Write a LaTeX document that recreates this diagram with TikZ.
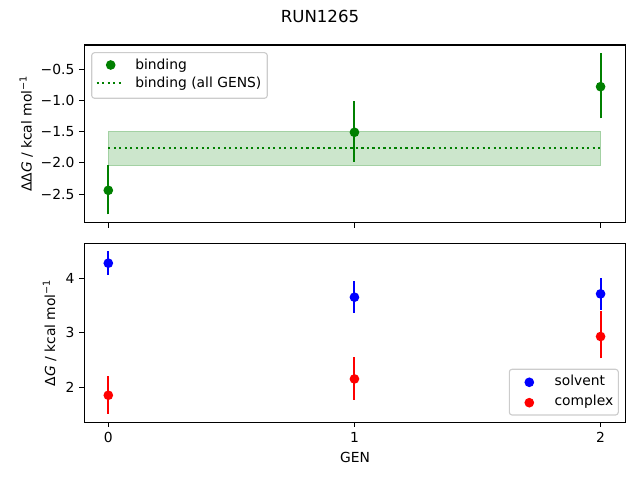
\documentclass[tikz,border=0pt]{standalone}
\usepackage{fontspec}
\setmainfont{DejaVu Sans}
\usepackage{tikz}
\usepackage{xcolor}
\definecolor{mplgreen}{HTML}{008000}
\definecolor{mplblue}{HTML}{0000FF}
\definecolor{mplred}{HTML}{FF0000}
\definecolor{legedge}{HTML}{CCCCCC}
\newcommand{\mplfont}{\fontsize{10}{12}\selectfont}

\begin{document}
\begin{tikzpicture}[x=0.01in,y=0.01in]
\tikzstyle{marker}=[circle,inner sep=0pt,minimum size=7pt]
\tikzstyle{errbar}=[line width=1.5pt]
\tikzstyle{spine}=[line width=0.8pt,black]
\tikzstyle{yticklab}=[anchor=east,inner sep=0pt,xshift=-7pt,font=\mplfont]
\tikzstyle{xticklab}=[anchor=north,inner sep=0pt,yshift=-7pt,font=\mplfont]
\tikzstyle{axlabel}=[anchor=base,inner sep=0pt,font=\mplfont]
\tikzstyle{legframe}=[draw=legedge,line width=0.8pt,rounded corners=2pt,fill=white,fill opacity=0.8]
\tikzstyle{legtext}=[anchor=base west,inner sep=0pt,font=\mplfont]
\tikzstyle{allgens}=[mplgreen,line width=1.5pt,dash pattern=on 1.5pt off 2.475pt]
\tikzstyle{band}=[fill=mplgreen,draw=mplgreen,fill opacity=0.2,draw opacity=0.2,line width=1pt]

\useasboundingbox (0,0) rectangle (640,480);

\node[anchor=base,inner sep=0pt,font=\fontsize{12}{14}\selectfont] (title) at (320,457.3) {RUN1265};

\begin{scope}[shift={(108.3,441.9)},x=2.46in,y=0.6235in]
\coordinate (tsw) at (-0.0976,-2.961);
\coordinate (tne) at (2.1016,-0.1107);
\coordinate (bandsw) at (0,-2.046);
\coordinate (bandne) at (2,-1.494);
\coordinate (avgl) at (0,-1.757);
\coordinate (avgr) at (2,-1.757);
\filldraw[band] (bandsw) rectangle (bandne);
\draw[allgens] (avgl) -- (avgr);
\foreach \g/\v/\lo/\hi in {0/-2.44/-2.826/-2.035,1/-1.51/-1.982/-1.008,2/-0.779/-1.286/-0.243}{
  \coordinate (bind\g lo) at (\g,\lo);
  \coordinate (bind\g hi) at (\g,\hi);
  \draw[errbar,mplgreen] (bind\g lo) -- (bind\g hi);
  \node[marker,fill=mplgreen] (bind\g) at (\g,\v) {};
}
\draw[spine] (tsw) rectangle (tne);
\foreach \v/\t [count=\i] in {-2.5/−2.5,-2.0/−2.0,-1.5/−1.5,-1.0/−1.0,-0.5/−0.5}{
  \draw[spine] (-0.0976,\v) -- ++(-3.5pt,0);
  \node[yticklab] (ttop\i) at (-0.0976,\v) {\t};
}
\foreach \g in {0,1,2}
  \draw[spine] (\g,-2.961) -- ++(0,-3.5pt);
\end{scope}

\node[axlabel,rotate=90] (ylabtop) at (31.7,346.2) {ΔΔ\textit{G} / kcal mol\textsuperscript{−1}};

\draw[legframe] (91.7,427.3) rectangle (267.3,381.7);
\node[marker,fill=mplgreen] (legbind) at (110.7,415) {};
\node[legtext] (legbindtxt) at (135,410.5) {binding};
\coordinate (legavgl) at (96.7,396.7);
\coordinate (legavgr) at (123.3,396.7);
\draw[allgens] (legavgl) -- (legavgr);
\node[legtext] (legavgtxt) at (135,392) {binding (all GENS)};

\begin{scope}[shift={(108.3,-16.3)},x=2.46in,y=0.545in]
\coordinate (bsw) at (-0.0976,1.358);
\coordinate (bne) at (2.1016,4.642);
\foreach \g/\v/\lo/\hi in {0/4.275/4.06/4.50,1/3.651/3.369/3.95,2/3.712/3.42/4.0}{
  \coordinate (solv\g lo) at (\g,\lo);
  \coordinate (solv\g hi) at (\g,\hi);
  \draw[errbar,mplblue] (solv\g lo) -- (solv\g hi);
}
\foreach \g/\v/\lo/\hi in {0/1.853/1.516/2.207,1/2.152/1.767/2.556,2/2.93/2.53/3.39}{
  \coordinate (cplx\g lo) at (\g,\lo);
  \coordinate (cplx\g hi) at (\g,\hi);
  \draw[errbar,mplred] (cplx\g lo) -- (cplx\g hi);
}
\foreach \g/\v in {0/4.275,1/3.651,2/3.712}
  \node[marker,fill=mplblue] (solv\g) at (\g,\v) {};
\foreach \g/\v in {0/1.853,1/2.152,2/2.93}
  \node[marker,fill=mplred] (cplx\g) at (\g,\v) {};
\draw[spine] (bsw) rectangle (bne);
\foreach \v in {2,3,4}{
  \draw[spine] (-0.0976,\v) -- ++(-3.5pt,0);
  \node[yticklab] (tbot\v) at (-0.0976,\v) {\v};
}
\foreach \g in {0,1,2}{
  \draw[spine] (\g,1.358) -- ++(0,-3.5pt);
  \node[xticklab] (tgen\g) at (\g,1.358) {\g};
}
\end{scope}

\node[axlabel,rotate=90] (ylabbot) at (55,147.2) {Δ\textit{G} / kcal mol\textsuperscript{−1}};
\node[axlabel] (xlab) at (355,17.7) {GEN};

\draw[legframe] (509.3,110.7) rectangle (618.3,65);
\node[marker,fill=mplblue] (legsolv) at (529.3,97.7) {};
\node[legtext] (legsolvtxt) at (554.3,94.5) {solvent};
\node[marker,fill=mplred] (legcplx) at (529.3,77.3) {};
\node[legtext] (legcplxtxt) at (554.3,74.3) {complex};
\end{tikzpicture}
\end{document}
